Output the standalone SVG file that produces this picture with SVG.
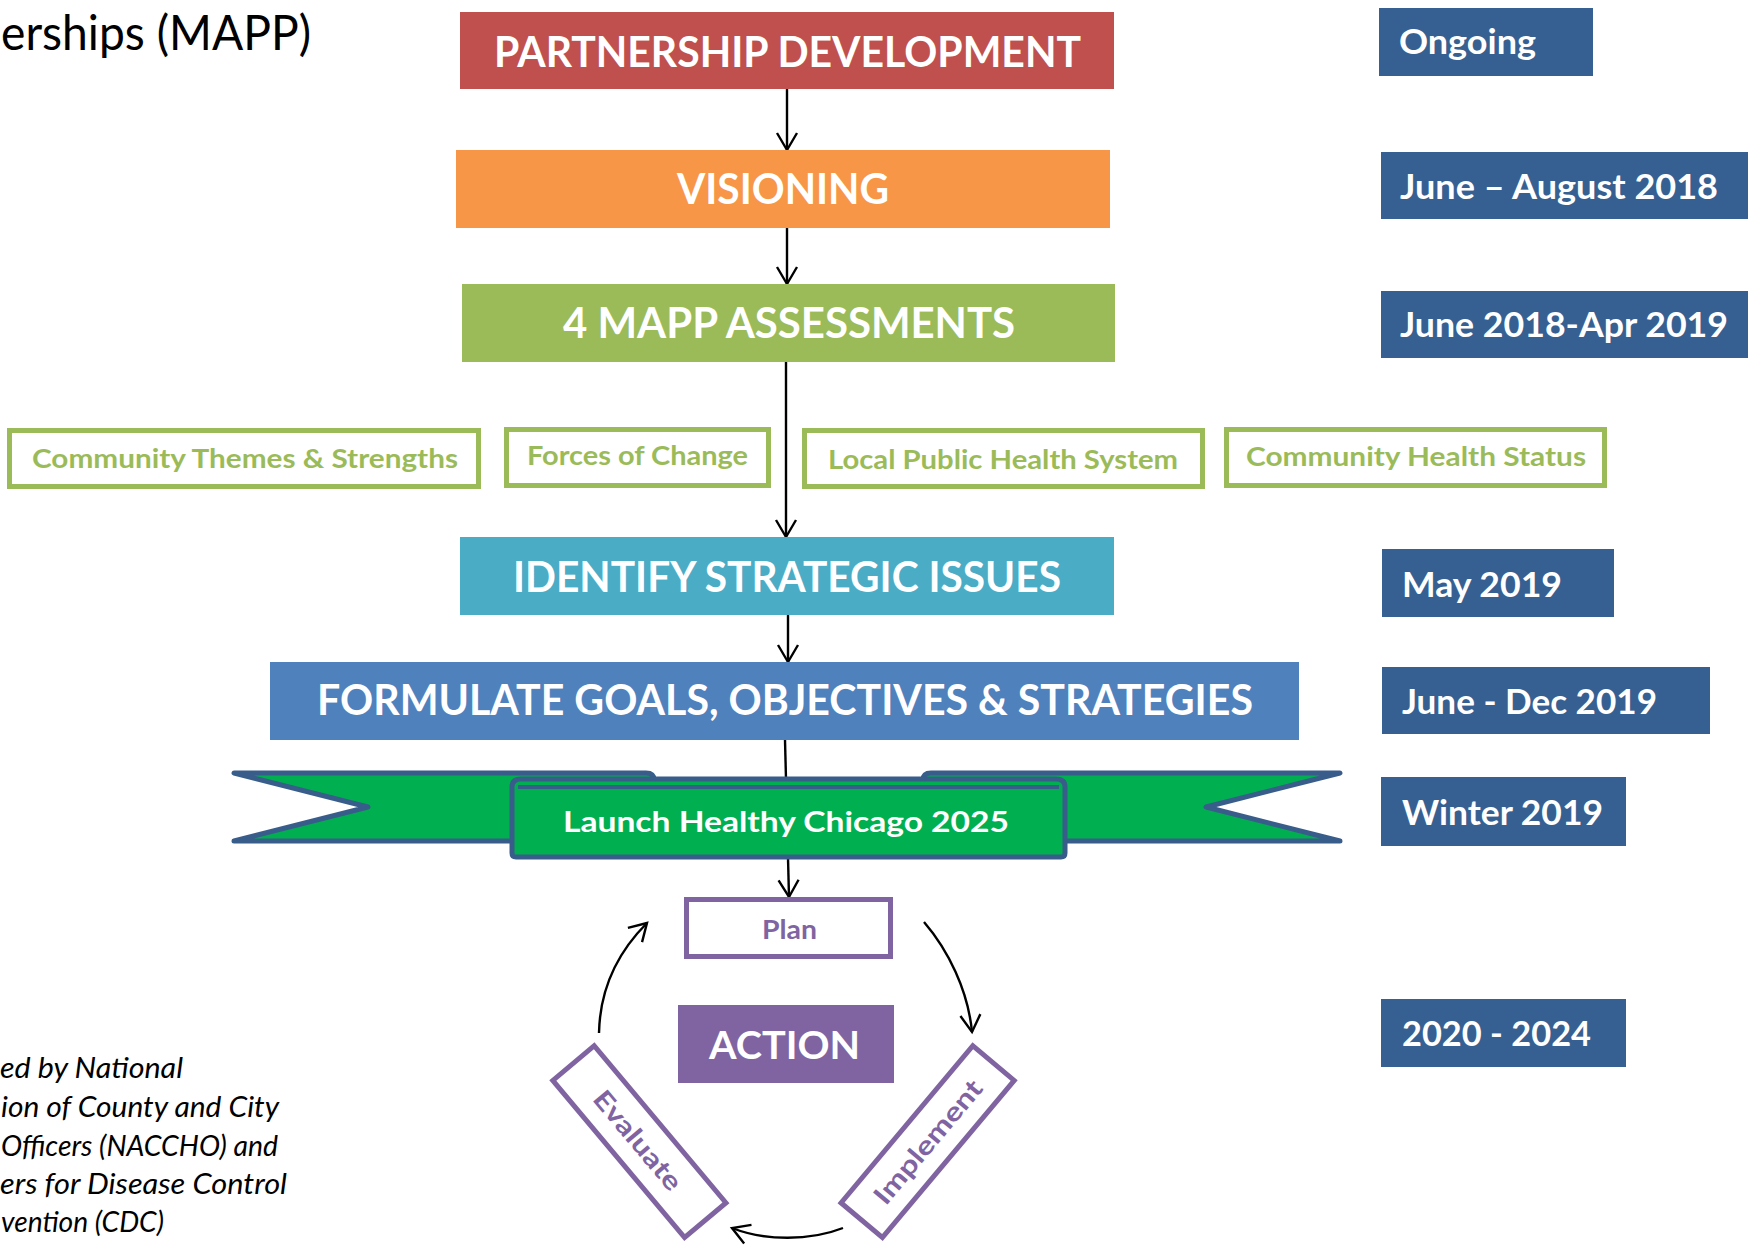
<svg xmlns="http://www.w3.org/2000/svg" width="1748" height="1246" viewBox="0 0 1748 1246">
  <defs>
    <marker id="arrow" viewBox="-20 -12 22 24" refX="0" refY="0" markerWidth="22" markerHeight="24" markerUnits="userSpaceOnUse" orient="auto" style="overflow:visible">
      <path d="M-17,-10 L0,0 L-17,10" fill="none" stroke="#000" stroke-width="2.4" stroke-linejoin="miter"/>
    </marker>
    <style>
      .lbl { font-family: Lato, "Open Sans", "Liberation Sans", sans-serif; font-weight: 700; }
      .main { font-size: 42px; fill: #fff; }
      .date { font-size: 34px; fill: #fff; }
      .datebox { fill: #376092; }
      .assess { fill: #fff; stroke: #9BBB59; stroke-width: 5; }
      .assess-t { font-size: 26px; fill: #9BBB59; }
      .cyc { fill: #fff; stroke: #8064A2; stroke-width: 5; }
      .cyc-t { font-size: 26px; fill: #8064A2; }
      .ribbon { fill: #00B050; stroke: #385D8A; stroke-width: 5; stroke-linejoin: round; }
      .conn { fill: none; stroke: #000; stroke-width: 2.4; marker-end: url(#arrow); }
      .note { font-family: Lato, "Open Sans", "Liberation Sans", sans-serif; font-style: italic; font-size: 28px; fill: #000; }
    </style>
  </defs>

  <rect width="1748" height="1246" fill="#fff"/>

  <!-- heading (cut at the left edge) -->
  <text x="1" y="50" font-family="Lato, 'Open Sans', 'Liberation Sans', sans-serif" font-size="49" fill="#000" textLength="310" lengthAdjust="spacingAndGlyphs">erships (MAPP)</text>

  <!-- connectors -->
  <g id="connectors">
    <path class="conn" d="M787,89 L787,150"/>
    <path class="conn" d="M787,228 L787,284"/>
    <path class="conn" d="M786,362 L786,537"/>
    <path class="conn" d="M788,615 L788,662"/>
    <path class="conn" d="M785,740 L789,897"/>
    <path class="conn" d="M599,1033 C600,985 620,950 647,923"/>
    <path class="conn" d="M924,922 C948,950 968,990 972,1032"/>
    <path class="conn" d="M843,1228 C810,1241 765,1241 732,1228"/>
  </g>

  <!-- main phases -->
  <g id="partnership">
    <rect x="460" y="12" width="654" height="77" fill="#C0504D"/>
    <text class="lbl main" x="494" y="67" textLength="587" lengthAdjust="spacingAndGlyphs">PARTNERSHIP DEVELOPMENT</text>
  </g>
  <g id="visioning">
    <rect x="456" y="150" width="654" height="78" fill="#F79646"/>
    <text class="lbl main" x="677" y="204" textLength="212" lengthAdjust="spacingAndGlyphs">VISIONING</text>
  </g>
  <g id="assessments">
    <rect x="462" y="284" width="653" height="78" fill="#9BBB59"/>
    <text class="lbl main" x="563" y="338" textLength="452" lengthAdjust="spacingAndGlyphs">4 MAPP ASSESSMENTS</text>
  </g>

  <!-- the four assessments -->
  <g id="themes-strengths">
    <rect class="assess" x="9.5" y="430.5" width="469" height="56"/>
    <text class="lbl assess-t" x="32" y="468" textLength="426" lengthAdjust="spacingAndGlyphs">Community Themes &amp; Strengths</text>
  </g>
  <g id="forces-of-change">
    <rect class="assess" x="506.5" y="429.5" width="262" height="56"/>
    <text class="lbl assess-t" x="527" y="465" textLength="221" lengthAdjust="spacingAndGlyphs">Forces of Change</text>
  </g>
  <g id="local-system">
    <rect class="assess" x="804.5" y="430.5" width="398" height="56"/>
    <text class="lbl assess-t" x="828" y="469" textLength="350" lengthAdjust="spacingAndGlyphs">Local Public Health System</text>
  </g>
  <g id="health-status">
    <rect class="assess" x="1226.5" y="429.5" width="378" height="56"/>
    <text class="lbl assess-t" x="1246" y="466" textLength="340" lengthAdjust="spacingAndGlyphs">Community Health Status</text>
  </g>

  <g id="strategic-issues">
    <rect x="460" y="537" width="654" height="78" fill="#4BACC6"/>
    <text class="lbl main" x="513" y="592" textLength="548" lengthAdjust="spacingAndGlyphs">IDENTIFY STRATEGIC ISSUES</text>
  </g>
  <g id="goals">
    <rect x="270" y="662" width="1029" height="78" fill="#4F81BD"/>
    <text class="lbl main" x="317" y="715" textLength="936" lengthAdjust="spacingAndGlyphs">FORMULATE GOALS, OBJECTIVES &amp; STRATEGIES</text>
  </g>

  <!-- launch ribbon -->
  <g id="launch">
    <path class="ribbon" d="M234,773 L646,773 Q654,773 654,780 L654,790 L520,790 L520,841 L234,841 L368,807 Z"/>
    <path class="ribbon" d="M1340,773 L931,773 Q923,773 923,780 L923,790 L1057,790 L1057,841 L1340,841 L1206,807 Z"/>
    <path class="ribbon" d="M516,857 Q512,857 512,853 L512,787 Q512,779 521,779 L1056,779 Q1065,779 1065,787 L1065,853 Q1065,857 1061,857 Z"/>
    <path d="M518,787 L1059,787" fill="none" stroke="#385D8A" stroke-width="4"/>
    <text class="lbl" x="563" y="832" font-size="29" fill="#fff" textLength="446" lengthAdjust="spacingAndGlyphs">Launch Healthy Chicago 2025</text>
  </g>

  <!-- action cycle -->
  <g id="plan">
    <rect class="cyc" x="686.5" y="899.5" width="204" height="57"/>
    <text class="lbl cyc-t" x="762" y="939" textLength="55" lengthAdjust="spacingAndGlyphs">Plan</text>
  </g>
  <g id="action">
    <rect x="678" y="1005" width="216" height="78" fill="#8064A2"/>
    <text class="lbl" x="709" y="1059" font-size="39" fill="#fff" textLength="151" lengthAdjust="spacingAndGlyphs">ACTION</text>
  </g>
  <g id="implement" transform="rotate(-50 928 1142)">
    <rect class="cyc" x="825.5" y="1114.5" width="205" height="54"/>
    <text class="lbl cyc-t" x="928" y="1151" text-anchor="middle" textLength="153" lengthAdjust="spacingAndGlyphs">Implement</text>
  </g>
  <g id="evaluate" transform="rotate(50 639 1142)">
    <rect class="cyc" x="536.5" y="1114.5" width="205" height="54"/>
    <text class="lbl cyc-t" x="637" y="1151" text-anchor="middle" textLength="122" lengthAdjust="spacingAndGlyphs">Evaluate</text>
  </g>

  <!-- timeline -->
  <g id="date-ongoing">
    <rect class="datebox" x="1379" y="8" width="214" height="68"/>
    <text class="lbl date" x="1399" y="54" textLength="137" lengthAdjust="spacingAndGlyphs">Ongoing</text>
  </g>
  <g id="date-visioning">
    <rect class="datebox" x="1381" y="152" width="367" height="67"/>
    <text class="lbl date" x="1400" y="199" textLength="318" lengthAdjust="spacingAndGlyphs">June – August 2018</text>
  </g>
  <g id="date-assessments">
    <rect class="datebox" x="1381" y="291" width="367" height="67"/>
    <text class="lbl date" x="1400" y="337" textLength="328" lengthAdjust="spacingAndGlyphs">June 2018-Apr 2019</text>
  </g>
  <g id="date-issues">
    <rect class="datebox" x="1382" y="549" width="232" height="68"/>
    <text class="lbl date" x="1402" y="597" textLength="160" lengthAdjust="spacingAndGlyphs">May 2019</text>
  </g>
  <g id="date-goals">
    <rect class="datebox" x="1382" y="667" width="328" height="67"/>
    <text class="lbl date" x="1402" y="714" textLength="255" lengthAdjust="spacingAndGlyphs">June - Dec 2019</text>
  </g>
  <g id="date-launch">
    <rect class="datebox" x="1381" y="777" width="245" height="69"/>
    <text class="lbl date" x="1402" y="825" textLength="201" lengthAdjust="spacingAndGlyphs">Winter 2019</text>
  </g>
  <g id="date-action">
    <rect class="datebox" x="1381" y="999" width="245" height="68"/>
    <text class="lbl date" x="1402" y="1046" textLength="189" lengthAdjust="spacingAndGlyphs">2020 - 2024</text>
  </g>

  <!-- source note, flush with the left edge -->
  <g id="source-note">
    <text class="note" x="0" y="1078" textLength="183" lengthAdjust="spacingAndGlyphs">ed by National</text>
    <text class="note" x="1" y="1117" textLength="278" lengthAdjust="spacingAndGlyphs">ion of County and City</text>
    <text class="note" x="1" y="1156" textLength="277" lengthAdjust="spacingAndGlyphs">Officers (NACCHO) and</text>
    <text class="note" x="0" y="1194" textLength="287" lengthAdjust="spacingAndGlyphs">ers for Disease Control</text>
    <text class="note" x="1" y="1232" textLength="163" lengthAdjust="spacingAndGlyphs">vention (CDC)</text>
  </g>
</svg>
